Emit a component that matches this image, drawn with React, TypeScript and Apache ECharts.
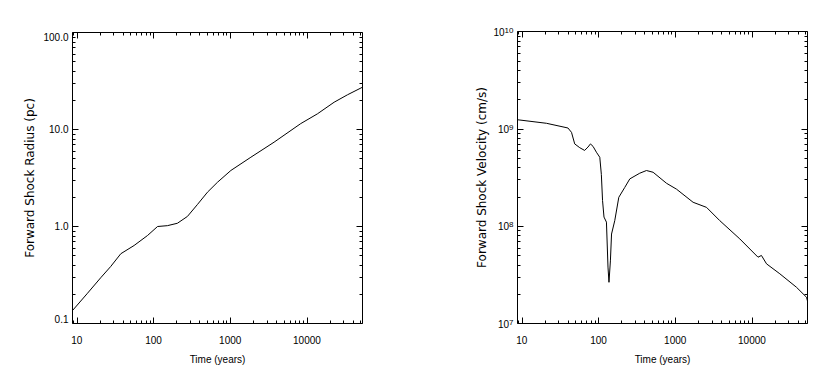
import React, { useEffect, useRef } from "react";
import * as echarts from "echarts";

// ---- Data ----
const radiusTime = [8.8, 13.8, 20.5, 27.7, 37.5, 55.9, 83.5, 113, 152, 205, 277, 375, 506, 683, 1020, 1860, 3730, 8300, 13700, 22600, 33800, 53000];
const radiusValue = [0.136, 0.205, 0.296, 0.387, 0.524, 0.637, 0.807, 1.0, 1.02, 1.08, 1.27, 1.69, 2.26, 2.86, 3.78, 5.18, 7.4, 11.5, 14.5, 19.1, 22.8, 27.3];

const velocityTime = [8.8, 21, 40, 44.5, 49, 57, 66, 73, 78.6, 85, 94, 104, 109, 113, 118, 127, 133, 137, 143, 148, 163, 184, 220, 256, 345, 422, 515, 770, 1040, 1710, 2560, 3810, 6950, 12000, 13300, 15500, 23100, 38000, 51500, 53000];
const velocityValue = [1.24e9, 1.14e9, 1.02e9, 9.2e8, 7.0e8, 6.4e8, 6.0e8, 6.5e8, 7.0e8, 6.6e8, 5.75e8, 5.1e8, 3.4e8, 1.83e8, 1.24e8, 1.1e8, 3.8e7, 2.65e7, 4.4e7, 8.3e7, 1.14e8, 1.98e8, 2.5e8, 3.06e8, 3.5e8, 3.73e8, 3.58e8, 2.76e8, 2.4e8, 1.76e8, 1.56e8, 1.14e8, 7.4e7, 4.8e7, 5.0e7, 4.1e7, 3.24e7, 2.36e7, 1.86e7, 1.7e7];

// tick values
const xMajorTicks = [10, 100, 1000, 10000];
const xMinorTicks = [9, 20, 30, 40, 50, 60, 70, 80, 90, 200, 300, 400, 500, 600, 700, 800, 900, 2000, 3000, 4000, 5000, 6000, 7000, 8000, 9000, 20000, 30000, 40000, 50000];
const radiusMajorTicks = [0.1, 1, 10, 100];
const radiusMinorTicks = [0.2, 0.3, 0.4, 0.5, 0.6, 0.7, 0.8, 0.9, 2, 3, 4, 5, 6, 7, 8, 9, 20, 30, 40, 50, 60, 70, 80, 90];
const velocityMajorTicks = [1e7, 1e8, 1e9, 1e10];
const velocityMinorTicks = [2e7, 3e7, 4e7, 5e7, 6e7, 7e7, 8e7, 9e7, 2e8, 3e8, 4e8, 5e8, 6e8, 7e8, 8e8, 9e8, 2e9, 3e9, 4e9, 5e9, 6e9, 7e9, 8e9, 9e9];

const X_MIN = 8.8;
const X_MAX = 53000;
const R_MIN = 0.1;
const R_MAX = 100;
const V_MIN = 1e7;
const V_MAX = 1e10;

const xTitle = "Time (years)";
const radiusTitle = "Forward Shock Radius (pc)";
const velocityTitle = "Forward Shock Velocity (cm/s)";

const FONT = "'Liberation Sans', Arial, Helvetica, sans-serif";
const TITLE_FONT = "'DejaVu Sans', Verdana, sans-serif";
const INK = "#000";

function tickAxis(
  gridIndex: number,
  position: string,
  min: number,
  max: number,
  ticks: number[],
  len: number,
  extra: any = {}
) {
  return {
    type: "log",
    gridIndex,
    min,
    max,
    position,
    axisLine: { show: false },
    axisTick: { show: true, inside: true, length: len, customValues: ticks, lineStyle: { color: INK, width: 1 } },
    axisLabel: { show: false },
    splitLine: { show: false },
    ...extra,
  };
}

export default function App() {
  const ref = useRef<HTMLDivElement>(null);

  useEffect(() => {
    if (!ref.current) return;
    const chart = echarts.init(ref.current, null, { renderer: "svg" });

    const radiusLabel = (v: number) => {
      const e = Math.round(Math.log10(v));
      const s = v.toFixed(1);
      if (e === 2) return `{t|${s}}`;
      if (e === -1) return `{b|${s}}`;
      return s;
    };
    const velocityLabel = (v: number) => {
      const e = Math.round(Math.log10(v));
      return `{m|10}{s|${e}}`;
    };

    const xMain = (g: number) =>
      tickAxis(g, "bottom", X_MIN, X_MAX, xMajorTicks, 6, {
        name: xTitle,
        nameLocation: "middle",
        nameGap: 31,
        nameTextStyle: { fontSize: 10, color: INK, fontFamily: FONT },
        axisLabel: {
          show: true,
          customValues: xMajorTicks,
          margin: 12,
          fontSize: 10,
          color: INK,
          fontFamily: FONT,
          formatter: (v: number) => String(Math.round(v)),
        },
      });

    const gridStyle = { show: true, borderColor: INK, borderWidth: 1, backgroundColor: "transparent" };

    const option: any = {
      animation: false,
      grid: [
        { left: 72.5, top: 32.5, width: 290, height: 291, ...gridStyle },
        { left: 517.5, top: 31.5, width: 290, height: 292, ...gridStyle },
      ],
      xAxis: [
        xMain(0), // 0
        tickAxis(0, "top", X_MIN, X_MAX, xMajorTicks, 6), // 1
        tickAxis(0, "bottom", X_MIN, X_MAX, xMinorTicks, 3), // 2
        tickAxis(0, "top", X_MIN, X_MAX, xMinorTicks, 3), // 3
        xMain(1), // 4
        tickAxis(1, "top", X_MIN, X_MAX, xMajorTicks, 6), // 5
        tickAxis(1, "bottom", X_MIN, X_MAX, xMinorTicks, 3), // 6
        tickAxis(1, "top", X_MIN, X_MAX, xMinorTicks, 3), // 7
      ],
      yAxis: [
        tickAxis(0, "left", R_MIN, R_MAX, radiusMajorTicks, 6, {
          name: radiusTitle,
          nameLocation: "middle",
          nameGap: 37,
          nameTextStyle: { fontSize: 12, color: INK, fontFamily: TITLE_FONT },
          axisLabel: {
            show: true,
            customValues: radiusMajorTicks,
            margin: 4,
            fontSize: 10,
            color: INK,
            fontFamily: FONT,
            formatter: radiusLabel,
            rich: {
              t: { fontSize: 10, color: INK, fontFamily: FONT, padding: [10, 0, 0, 0] },
              b: { fontSize: 10, color: INK, fontFamily: FONT, padding: [0, 0, 8, 0] },
            },
          },
        }), // 0
        tickAxis(0, "right", R_MIN, R_MAX, radiusMajorTicks, 6), // 1
        tickAxis(0, "left", R_MIN, R_MAX, radiusMinorTicks, 3), // 2
        tickAxis(0, "right", R_MIN, R_MAX, radiusMinorTicks, 3), // 3
        tickAxis(1, "left", V_MIN, V_MAX, velocityMajorTicks, 6, {
          name: velocityTitle,
          nameLocation: "middle",
          nameGap: 30,
          nameTextStyle: { fontSize: 12, color: INK, fontFamily: TITLE_FONT },
          axisLabel: {
            show: true,
            customValues: velocityMajorTicks,
            margin: 4,
            fontSize: 10,
            color: INK,
            fontFamily: FONT,
            formatter: velocityLabel,
            rich: {
              m: { fontSize: 10, lineHeight: 11, color: INK, fontFamily: FONT, verticalAlign: "bottom", padding: [3, 0, 0, 0] },
              s: { fontSize: 8, lineHeight: 8, color: INK, fontFamily: FONT, verticalAlign: "top" },
            },
          },
        }), // 4
        tickAxis(1, "right", V_MIN, V_MAX, velocityMajorTicks, 6), // 5
        tickAxis(1, "left", V_MIN, V_MAX, velocityMinorTicks, 3), // 6
        tickAxis(1, "right", V_MIN, V_MAX, velocityMinorTicks, 3), // 7
      ],
      series: [
        {
          type: "line",
          xAxisIndex: 0,
          yAxisIndex: 0,
          showSymbol: false,
          lineStyle: { color: INK, width: 1 },
          data: radiusTime.map((t, i) => [t, radiusValue[i]]),
        },
        {
          type: "line",
          xAxisIndex: 4,
          yAxisIndex: 4,
          showSymbol: false,
          lineStyle: { color: INK, width: 1 },
          data: velocityTime.map((t, i) => [t, velocityValue[i]]),
        },
      ],
    };

    chart.setOption(option);
    return () => chart.dispose();
  }, []);

  return (
    <div
      ref={ref}
      style={{ position: "absolute", left: 0, top: 0, width: 830, height: 384, background: "#fff" }}
    />
  );
}
